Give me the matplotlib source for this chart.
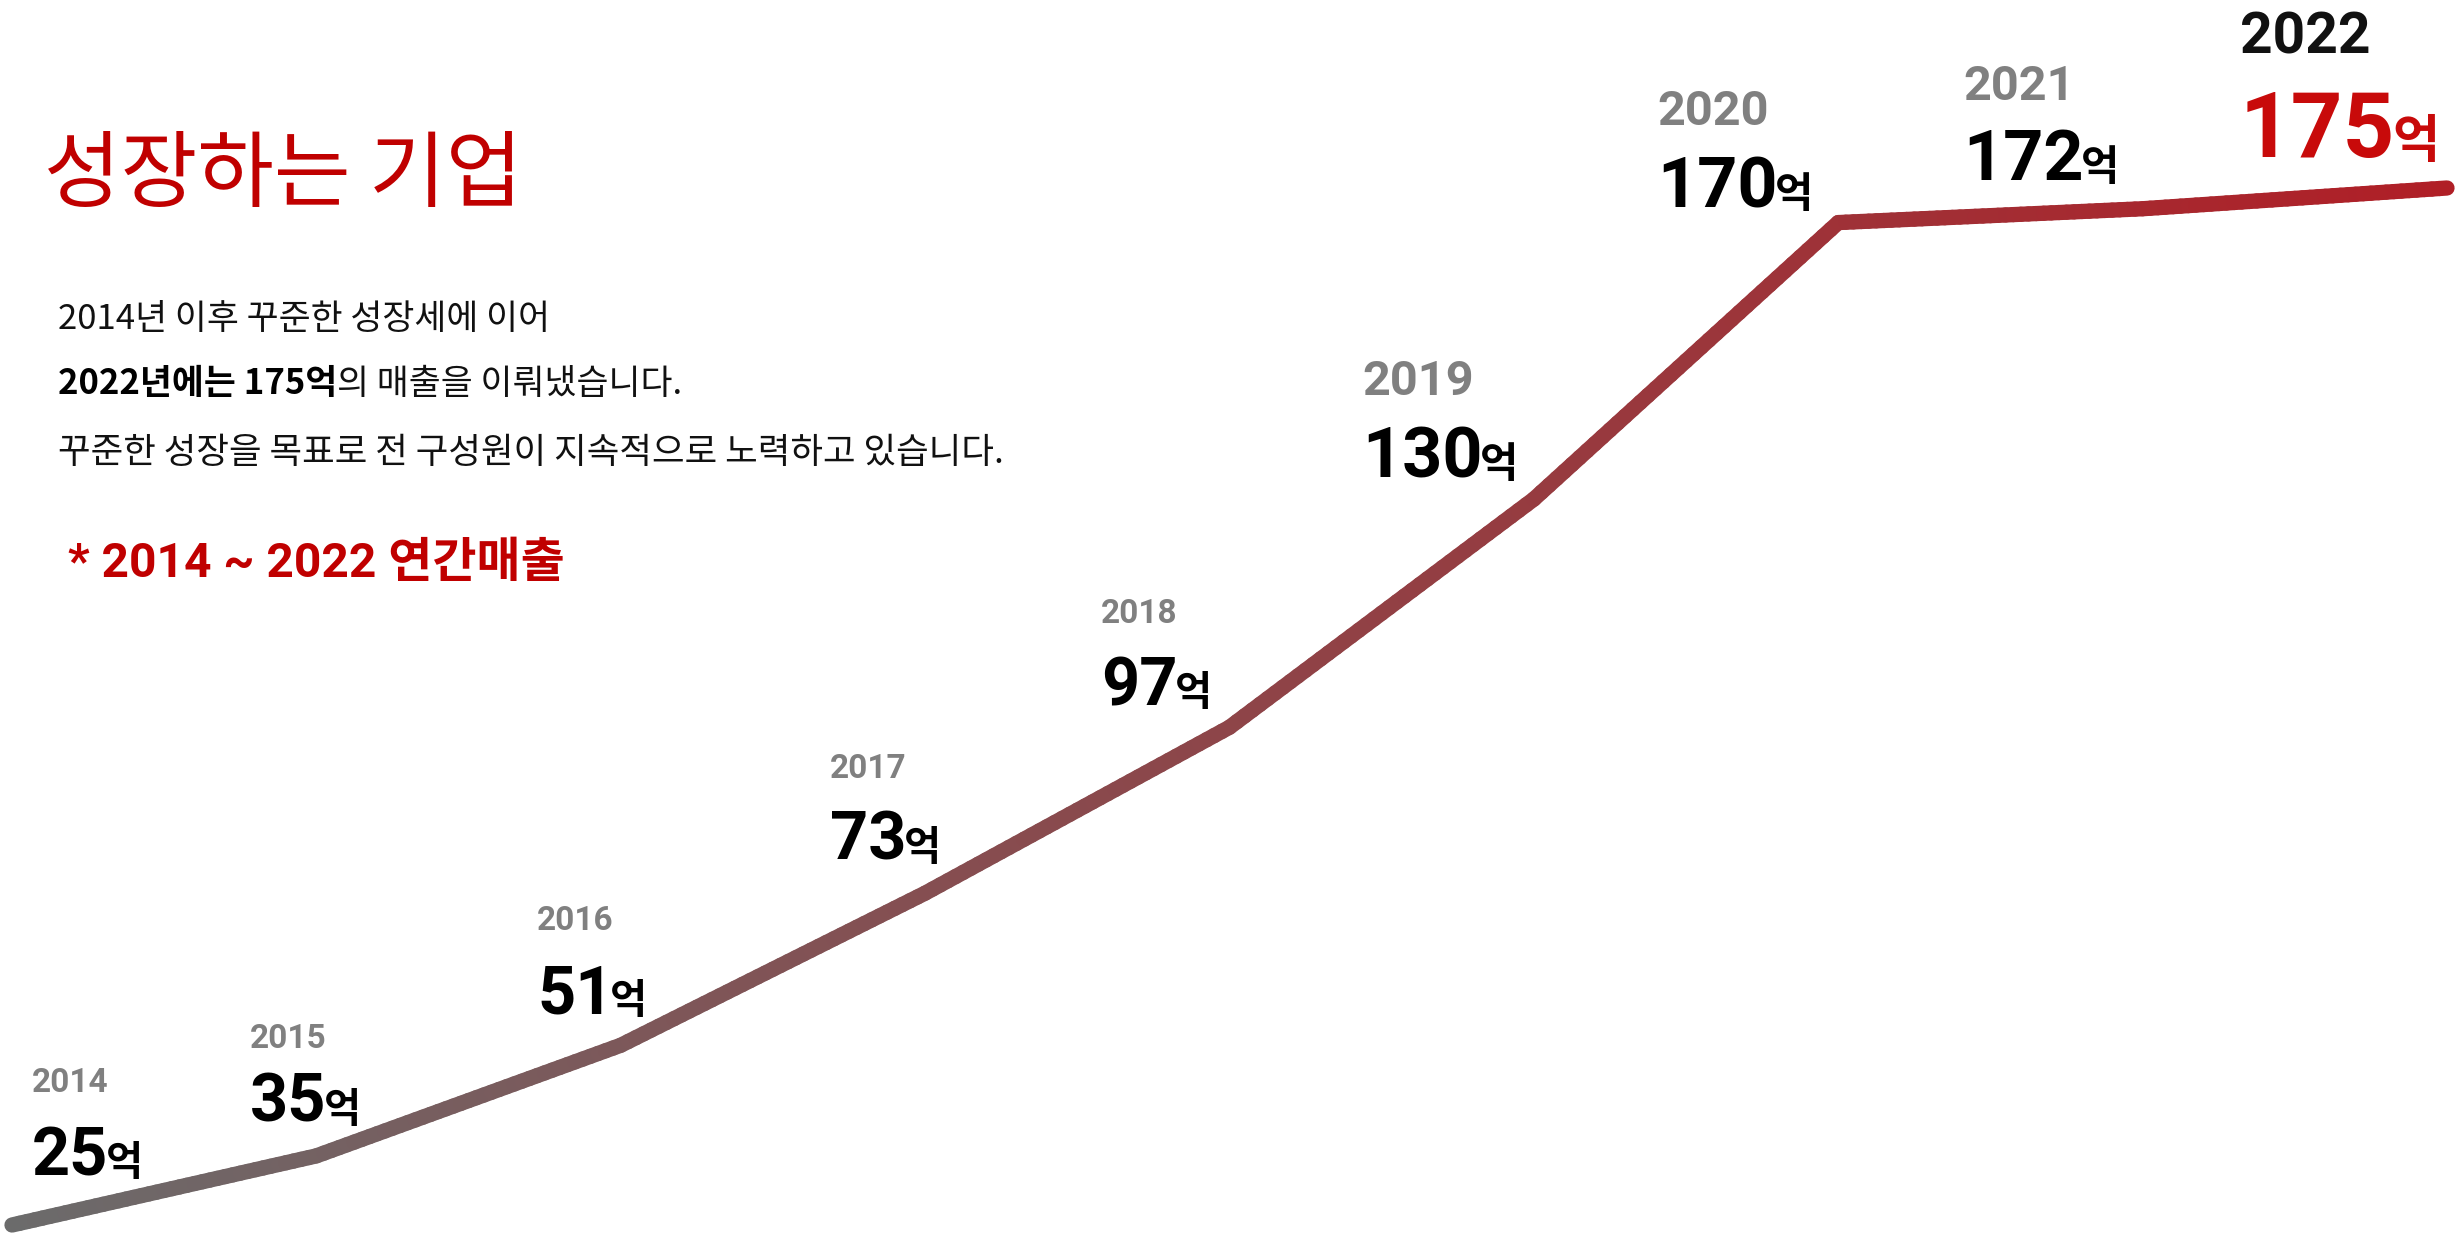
import numpy as np
import matplotlib
matplotlib.use("Agg")
import matplotlib.pyplot as plt
from matplotlib.collections import LineCollection

# ---------------- data ----------------
years = [2014, 2015, 2016, 2017, 2018, 2019, 2020, 2021, 2022]
revenue = [25, 35, 51, 73, 97, 130, 170, 172, 175]   # 억
unit = "억"
title = "성장하는 기업"
para1 = "2014년 이후 꾸준한 성장세에 이어"
para2_bold = "2022년에는 175억"
para2_rest = "의 매출을 이뤄냈습니다."
para3 = "꾸준한 성장을 목표로 전 구성원이 지속적으로 노력하고 있습니다."
subtitle = "* 2014 ~ 2022 연간매출"

# ---------------- layout ----------------
W, H = 2456, 1234
DPI = 100
fig = plt.figure(figsize=(W / DPI, H / DPI), dpi=DPI)
fig.patch.set_facecolor("white")
ax = fig.add_axes([0, 0, 1, 1])
ax.set_axis_off()
# x: 2014 -> 12px, 2022 -> 2447px ; y: 25 -> 9px from bottom, 175 -> 1046px
xspan = (2447 - 12) / 8.0
ax.set_xlim(2014 - 12 / xspan, 2022 + (W - 2447) / xspan)
yper = (1225 - 188) / 150.0
ax.set_ylim(25 - 9 / yper, 25 + 1225 / yper)

# gradient line
xs, ys = [], []
for i in range(len(years) - 1):
    t = np.linspace(0, 1, 40, endpoint=False)
    xs.extend(years[i] + (years[i + 1] - years[i]) * t)
    ys.extend(revenue[i] + (revenue[i + 1] - revenue[i]) * t)
xs.append(years[-1]); ys.append(revenue[-1])
xs = np.array(xs); ys = np.array(ys)
pts = np.column_stack([xs, ys]).reshape(-1, 1, 2)
segs = np.concatenate([pts[:-1], pts[1:]], axis=1)
c0 = np.array([0.42, 0.42, 0.42])
c1 = np.array([0.69, 0.12, 0.15])
f = (xs[:-1] - years[0]) / (years[-1] - years[0])
cols = [tuple(c0 + (c1 - c0) * v) for v in f]
lc = LineCollection(segs, colors=cols, linewidths=11, capstyle="round", joinstyle="round")
ax.add_collection(lc)

KR = ["Noto Sans CJK KR", "DejaVu Sans"]
NUM = ["Roboto", "Noto Sans CJK KR", "DejaVu Sans"]

def P(x, y):
    return (x / W, 1 - y / H)

renderer = fig.canvas.get_renderer()

def seq_text(x, y, pieces):
    """place text pieces one after another on the same baseline (pixel coords)"""
    cx = x
    for s, kw, gap in pieces:
        cx += gap
        t = fig.text(*P(cx, y), s, va="baseline", ha="left", **kw)
        bb = t.get_window_extent(renderer=renderer)
        cx = bb.x1
    return cx

# title (handwritten look approximated)
fig.text(*P(44, 200), title, family=KR, fontsize=60, color="#C00000", va="baseline", ha="left", weight="normal")

# paragraph
fig.text(*P(58, 329), para1, family=KR, fontsize=25, color="#111111", va="baseline", weight="light")
seq_text(58, 394, [(para2_bold, dict(family=KR, fontsize=25, color="#000000", weight="bold"), 0),
                   (para2_rest, dict(family=KR, fontsize=25, color="#111111", weight="light"), 0)])
fig.text(*P(58, 463), para3, family=KR, fontsize=25.5, color="#111111", va="baseline", weight="light")
fig.text(*P(68, 577), subtitle, family=NUM, fontsize=34.5, color="#C00000", va="baseline", weight="bold")

# labels: (x_left, value_baseline, year_baseline) in pixels ; style group
label_layout = [
    (32, 1175, 1092, "s"),
    (250, 1122, 1048, "s"),
    (537, 1013, 930, "s"),
    (830, 860, 778, "s"),
    (1101, 705, 623, "s"),
    (1362, 477, 395, "m"),
    (1657, 207, 125, "m"),
    (1963, 180, 100, "m"),
    (2240, 157, 53, "l"),
]
styles = {
    "s": dict(ysize=24, ycol="#808080", vsize=48, vcol="#000000", usize=29),
    "m": dict(ysize=35, ycol="#808080", vsize=50.5, vcol="#000000", usize=30),
    "l": dict(ysize=41, ycol="#111111", vsize=65, vcol="#C80A0A", usize=37),
}
for yr, val, (lx, vb, yb, g) in zip(years, revenue, label_layout):
    st = styles[g]
    fig.text(*P(lx, yb), str(yr), family=NUM, fontsize=st["ysize"], color=st["ycol"],
             weight="bold", va="baseline", ha="left")
    seq_text(lx, vb, [(str(val), dict(family=NUM, fontsize=st["vsize"], color=st["vcol"], weight="bold"), 0),
                      (unit, dict(family=KR, fontsize=st["usize"], color=st["vcol"], weight="bold"), -3)])

fig.savefig("out.png", dpi=DPI, facecolor="white")
